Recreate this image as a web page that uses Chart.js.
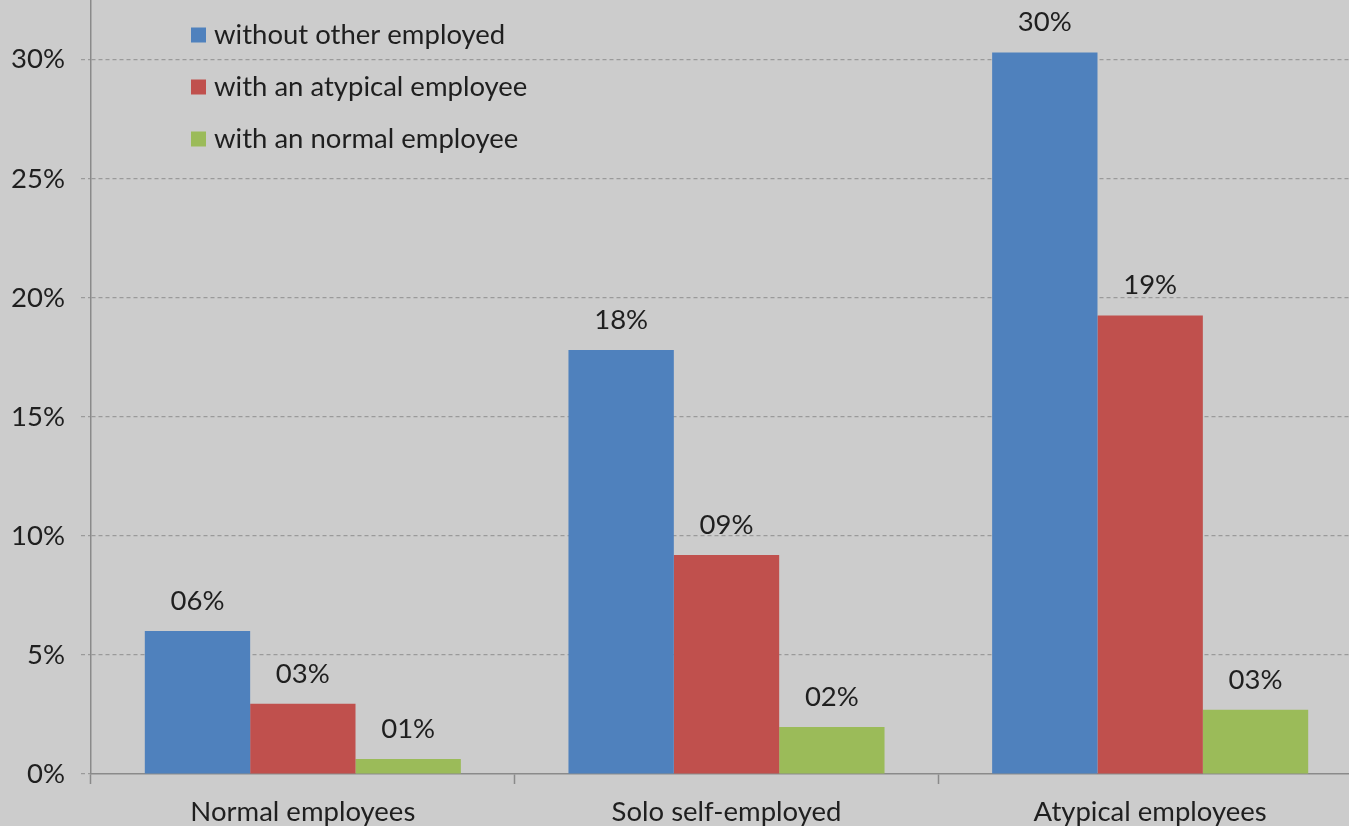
<!DOCTYPE html>
<html><head><meta charset="utf-8">
<script src="https://cdn.jsdelivr.net/npm/chart.js@4.4.0/dist/chart.umd.min.js"></script>
<style>
html,body{margin:0;padding:0;background:#cccccc;overflow:hidden;width:1349px;height:826px;}
#wrap{position:absolute;left:0;top:-92px;width:1362px;height:926px;}
</style></head><body><div id="wrap"><canvas id="c"></canvas></div>
<script>
const categories = ['Normal employees', 'Solo self-employed', 'Atypical employees'];
const seriesNames = ['without other employed', 'with an atypical employee', 'with an normal employee'];
const withoutOther = [6.0, 17.8, 30.3];
const withAtypical = [2.95, 9.2, 19.25];
const withNormal = [0.63, 1.97, 2.7];
const seriesColors = ['#4f81bd', '#c0504d', '#9bbb59'];
const yMin = 0, yMax = 35, yStep = 5;

const FONT = 'Lato, "Open Sans", sans-serif';
const FS = 27.5;
const TEXT = '#1f1f1f';
const OFFSET_TOP = 92;

function fmt(v){ const r = Math.round(v); return (r < 10 ? '0' + r : '' + r) + '%'; }

const valueLabels = {
  id: 'valueLabels',
  afterDatasetsDraw(chart){
    const ctx = chart.ctx;
    ctx.save();
    ctx.font = FS + 'px ' + FONT;
    ctx.fillStyle = TEXT;
    ctx.textAlign = 'center';
    ctx.textBaseline = 'middle';
    chart.data.datasets.forEach((ds, i) => {
      chart.getDatasetMeta(i).data.forEach((bar, j) => {
        ctx.fillText(fmt(ds.data[j]), bar.x, bar.y - 30);
      });
    });
    ctx.restore();
  }
};

const innerLegend = {
  id: 'innerLegend',
  afterDraw(chart){
    const ctx = chart.ctx;
    ctx.save();
    ctx.font = FS + 'px ' + FONT;
    ctx.textAlign = 'left';
    ctx.textBaseline = 'middle';
    chart.data.datasets.forEach((ds, i) => {
      const cy = OFFSET_TOP + 35 + i * 52;
      ctx.fillStyle = ds.backgroundColor;
      ctx.fillRect(191, cy - 7.5, 15, 15);
      ctx.fillStyle = TEXT;
      ctx.fillText(ds.label, 214, cy);
    });
    ctx.restore();
  }
};

const datasets = [withoutOther, withAtypical, withNormal].map((d, i) => ({
  label: seriesNames[i],
  data: d,
  backgroundColor: seriesColors[i],
  borderWidth: 0,
  categoryPercentage: 0.746,
  barPercentage: 1.0
}));

new Chart(document.getElementById('c'), {
  type: 'bar',
  data: { labels: categories, datasets },
  options: {
    responsive: true,
    maintainAspectRatio: false,
    animation: false,
    devicePixelRatio: 1,
    layout: { padding: { top: 20, left: 0, right: 0, bottom: 0 } },
    plugins: { legend: { display: false }, tooltip: { enabled: false } },
    scales: {
      x: {
        grid: { offset: true, drawOnChartArea: false, drawTicks: true, tickLength: 10, tickColor: '#8a8a8a', tickWidth: 1.5 },
        border: { color: '#8a8a8a', width: 1.5 },
        ticks: { font: { family: FONT, size: FS }, color: TEXT, padding: 12 },
        afterFit(s){ s.height = 60; }
      },
      y: {
        min: yMin, max: yMax,
        ticks: { stepSize: yStep, font: { family: FONT, size: FS }, color: TEXT, padding: 16, callback: v => v + '%' },
        grid: {
          color: ctx => ctx.tick && ctx.tick.value === 0 ? 'rgba(0,0,0,0)' : '#9a9a9a',
          lineWidth: 1.2, tickLength: 10, tickColor: '#9a9a9a', tickBorderDash: [4, 3]
        },
        border: { color: '#8a8a8a', width: 1.5, dash: [4, 3] },
        afterFit(s){ s.width = 91; }
      }
    }
  },
  plugins: [valueLabels, innerLegend]
});
</script>
</body></html>
